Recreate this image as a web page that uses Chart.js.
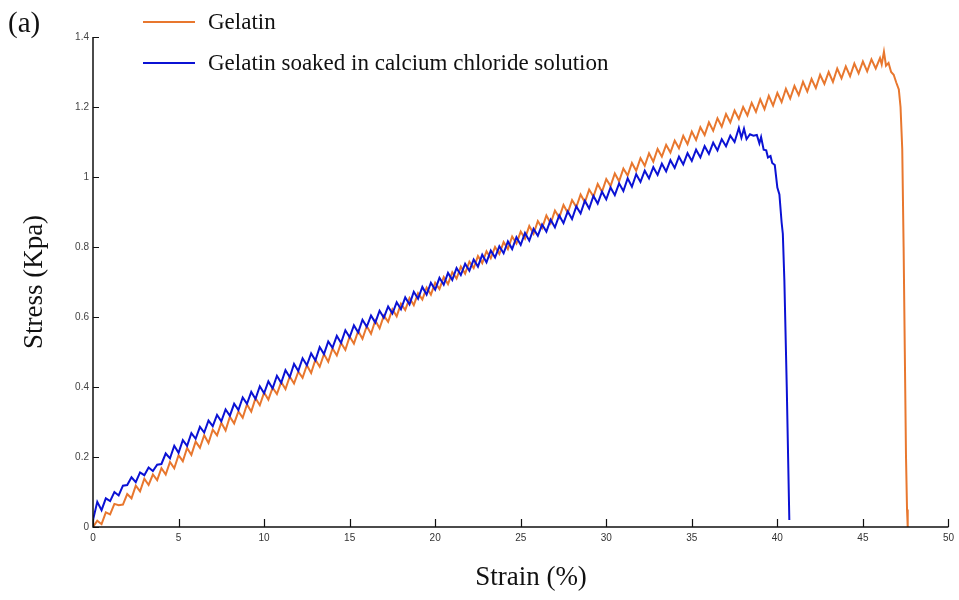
<!DOCTYPE html>
<html>
<head>
<meta charset="utf-8">
<script src="https://cdn.jsdelivr.net/npm/chart.js@4.4.1/dist/chart.umd.min.js"></script>
<style>
  html, body { margin: 0; padding: 0; background: #fff; }
  #wrap { width: 959px; height: 600px; }
</style>
</head>
<body>
<div id="wrap"><canvas id="chart" width="959" height="600"></canvas></div>
<script>
const STEP = 0.25;

const gelatinStress = [
  0.000, 0.018, 0.008, 0.042, 0.036, 0.066, 0.062, 0.064,
  0.094, 0.082, 0.118, 0.102, 0.138, 0.120, 0.150, 0.134,
  0.168, 0.150, 0.186, 0.168, 0.205, 0.188, 0.226, 0.206,
  0.244, 0.226, 0.262, 0.240, 0.278, 0.262, 0.298, 0.276,
  0.315, 0.296, 0.330, 0.312, 0.350, 0.330, 0.368, 0.348,
  0.384, 0.364, 0.398, 0.380, 0.414, 0.394, 0.430, 0.410,
  0.444, 0.426, 0.462, 0.440, 0.478, 0.458, 0.494, 0.472,
  0.510, 0.490, 0.526, 0.506, 0.544, 0.524, 0.560, 0.538,
  0.574, 0.552, 0.590, 0.568, 0.604, 0.586, 0.622, 0.602,
  0.638, 0.620, 0.654, 0.634, 0.668, 0.650, 0.684, 0.664,
  0.698, 0.680, 0.714, 0.694, 0.728, 0.710, 0.744, 0.724,
  0.758, 0.740, 0.774, 0.754, 0.788, 0.768, 0.800, 0.780,
  0.814, 0.794, 0.830, 0.810, 0.844, 0.824, 0.860, 0.838,
  0.874, 0.854, 0.890, 0.868, 0.904, 0.884, 0.920, 0.898,
  0.934, 0.914, 0.950, 0.928, 0.964, 0.944, 0.980, 0.958,
  0.994, 0.974, 1.010, 0.988, 1.024, 1.004, 1.040, 1.018,
  1.054, 1.032, 1.068, 1.044, 1.080, 1.058, 1.092, 1.070,
  1.104, 1.082, 1.118, 1.094, 1.130, 1.106, 1.142, 1.120,
  1.156, 1.132, 1.168, 1.144, 1.180, 1.156, 1.190, 1.166,
  1.200, 1.176, 1.212, 1.186, 1.222, 1.194, 1.232, 1.204,
  1.240, 1.214, 1.252, 1.224, 1.260, 1.234, 1.272, 1.244,
  1.280, 1.254, 1.292, 1.266, 1.300, 1.272, 1.310, 1.282,
  1.316, 1.288, 1.324, 1.296, 1.330, 1.302, 1.336, 1.310,
  1.340
];
// peak and failure of the plain gelatin sample
const gelatinTailStrain = [46.1, 46.23, 46.35, 46.5, 46.65, 46.8, 46.95, 47.1, 47.2, 47.3, 47.38, 47.45, 47.52, 47.58, 47.62];
const gelatinTailStress = [1.322, 1.358, 1.318, 1.326, 1.300, 1.292, 1.270, 1.250, 1.200, 1.080, 0.800, 0.500, 0.200, 0.050, 0.000];

const calciumStress = [
  0.020, 0.072, 0.048, 0.082, 0.074, 0.100, 0.090, 0.118,
  0.120, 0.142, 0.128, 0.156, 0.148, 0.170, 0.160, 0.178,
  0.180, 0.210, 0.196, 0.232, 0.212, 0.248, 0.232, 0.268,
  0.252, 0.286, 0.270, 0.304, 0.288, 0.320, 0.302, 0.336,
  0.318, 0.352, 0.334, 0.370, 0.352, 0.386, 0.366, 0.402,
  0.382, 0.416, 0.396, 0.432, 0.412, 0.448, 0.428, 0.466,
  0.446, 0.482, 0.462, 0.496, 0.476, 0.514, 0.494, 0.530,
  0.512, 0.546, 0.526, 0.562, 0.542, 0.576, 0.556, 0.592,
  0.572, 0.604, 0.584, 0.618, 0.598, 0.630, 0.610, 0.642,
  0.622, 0.656, 0.636, 0.672, 0.652, 0.686, 0.664, 0.698,
  0.678, 0.712, 0.692, 0.726, 0.706, 0.740, 0.720, 0.752,
  0.732, 0.764, 0.744, 0.778, 0.756, 0.790, 0.770, 0.802,
  0.782, 0.816, 0.794, 0.828, 0.806, 0.840, 0.818, 0.852,
  0.832, 0.864, 0.844, 0.878, 0.856, 0.890, 0.868, 0.902,
  0.880, 0.916, 0.896, 0.932, 0.910, 0.946, 0.924, 0.958,
  0.936, 0.970, 0.948, 0.982, 0.960, 0.996, 0.972, 1.008,
  0.986, 1.018, 0.996, 1.028, 1.006, 1.038, 1.016, 1.048,
  1.026, 1.058, 1.036, 1.068, 1.046, 1.078, 1.056, 1.088,
  1.066, 1.098, 1.076, 1.108, 1.088, 1.118, 1.100, 1.140
];
const calciumTailStrain = [37.9, 38.05, 38.2, 38.4, 38.6, 38.8, 38.95, 39.05, 39.2, 39.35, 39.45, 39.6, 39.7, 39.85, 40.0, 40.12, 40.25, 40.32, 40.41, 40.55, 40.7];
const calciumTailStress = [1.112, 1.138, 1.108, 1.122, 1.118, 1.120, 1.096, 1.114, 1.078, 1.076, 1.056, 1.060, 1.040, 1.034, 0.970, 0.950, 0.870, 0.838, 0.705, 0.400, 0.020];

const seriesLabels = ['Gelatin', 'Gelatin soaked in calcium chloride solution'];
const seriesColors = ['#e8772e', '#0b12d4'];
const xTicks = [0, 5, 10, 15, 20, 25, 30, 35, 40, 45, 50];
const yTicks = [0, 0.2, 0.4, 0.6, 0.8, 1, 1.2, 1.4];
const xTitle = 'Strain (%)';
const yTitle = 'Stress (Kpa)';

function toPoints(stress, tailStrain, tailStress) {
  const pts = stress.map((v, i) => ({ x: i * STEP, y: v }));
  tailStrain.forEach((s, i) => pts.push({ x: s, y: tailStress[i] }));
  return pts;
}

const serif = '"Liberation Serif", "Times New Roman", serif';

// axis lines, inward ticks, x title, legend and panel letter
const decorations = {
  id: 'decorations',
  afterDraw(chart) {
    const { ctx, chartArea: a, scales: { x, y } } = chart;
    ctx.save();
    ctx.strokeStyle = '#111';
    ctx.lineWidth = 1.5;
    ctx.beginPath();
    ctx.moveTo(a.left, a.top);
    ctx.lineTo(a.left, a.bottom);
    ctx.lineTo(a.right, a.bottom);
    ctx.stroke();

    ctx.lineWidth = 1.2;
    ctx.beginPath();
    xTicks.forEach(v => {
      const px = Math.round(x.getPixelForValue(v)) + 0.5;
      ctx.moveTo(px, a.bottom);
      ctx.lineTo(px, a.bottom - 8);
    });
    yTicks.forEach(v => {
      const py = Math.round(y.getPixelForValue(v)) + 0.5;
      ctx.moveTo(a.left, py);
      ctx.lineTo(a.left + 6, py);
    });
    ctx.stroke();

    ctx.fillStyle = '#111';
    ctx.textBaseline = 'middle';
    ctx.textAlign = 'center';
    ctx.font = '27px ' + serif;
    ctx.fillText(xTitle, 531, 578);

    ctx.textAlign = 'left';
    ctx.font = '29px ' + serif;
    ctx.fillText('(a)', 8, 24);

    ctx.font = '23px ' + serif;
    const rows = [22, 63];
    seriesLabels.forEach((label, i) => {
      ctx.strokeStyle = seriesColors[i];
      ctx.lineWidth = 2;
      ctx.beginPath();
      ctx.moveTo(143, rows[i]);
      ctx.lineTo(195, rows[i]);
      ctx.stroke();
      ctx.fillText(label, 208, rows[i] + 1);
    });
    ctx.restore();
  }
};

const tickFont = { family: '"Liberation Sans", Arial, sans-serif', size: 10 };
const titleFont = { family: serif, size: 27 };

new Chart(document.getElementById('chart'), {
  type: 'line',
  data: {
    datasets: [
      {
        label: seriesLabels[0],
        data: toPoints(gelatinStress, gelatinTailStrain, gelatinTailStress),
        borderColor: seriesColors[0],
        borderWidth: 2,
        order: 2
      },
      {
        label: seriesLabels[1],
        data: toPoints(calciumStress, calciumTailStrain, calciumTailStress),
        borderColor: seriesColors[1],
        borderWidth: 2,
        order: 1
      }
    ]
  },
  options: {
    responsive: false,
    animation: false,
    layout: { padding: { top: 37, right: 8, left: 0, bottom: 0 } },
    elements: { point: { radius: 0 }, line: { tension: 0 } },
    plugins: { legend: { display: false }, tooltip: { enabled: false } },
    scales: {
      x: {
        type: 'linear',
        min: 0,
        max: 50,
        afterBuildTicks: s => { s.ticks = xTicks.map(v => ({ value: v })); },
        afterFit: s => { s.height = 73; },
        grid: { display: false, drawTicks: false },
        border: { display: false },
        ticks: { font: tickFont, color: '#333', padding: 5, maxRotation: 0, callback: v => String(v) }
      },
      y: {
        min: 0,
        max: 1.4,
        afterBuildTicks: s => { s.ticks = yTicks.map(v => ({ value: v })); },
        afterFit: s => { s.width = 93; },
        grid: { display: false, drawTicks: false },
        border: { display: false },
        ticks: { font: tickFont, color: '#444', padding: 4, callback: v => String(Math.round(v * 10) / 10) },
        title: { display: true, text: yTitle, font: titleFont, color: '#111', padding: { top: 19, bottom: 0 } }
      }
    }
  },
  plugins: [decorations]
});
</script>
</body>
</html>
